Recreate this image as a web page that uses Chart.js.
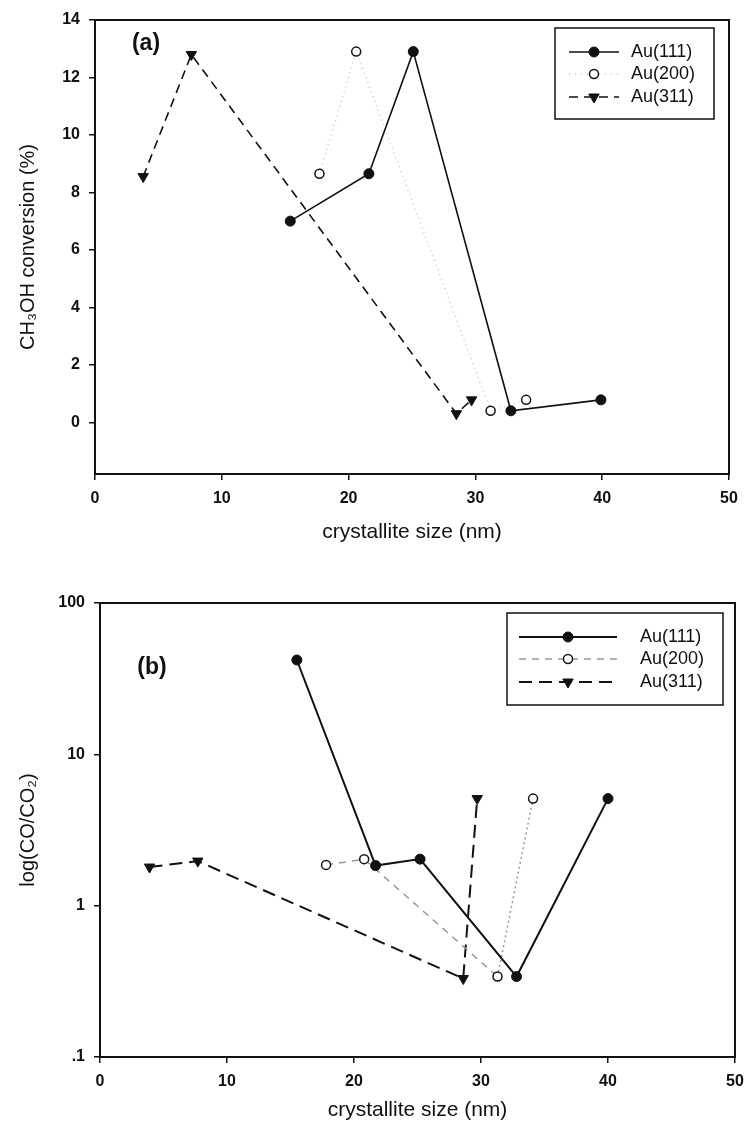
<!DOCTYPE html>
<html>
<head>
<meta charset="utf-8">
<script src="https://cdn.jsdelivr.net/npm/chart.js@4/dist/chart.umd.min.js"></script>
<style>
  html, body { margin: 0; padding: 0; background: #fff; }
  #wrap { position: relative; width: 744px; height: 1134px; }
  #chartA { position: absolute; left: 0; top: 0; }
  #chartB { position: absolute; left: 0; top: 560px; }
</style>
</head>
<body>
<div id="wrap">
  <canvas id="chartA" width="744" height="560"></canvas>
  <canvas id="chartB" width="744" height="574"></canvas>
</div>
<script>
// ---- data ----
const seriesNames = ['Au(111)', 'Au(200)', 'Au(311)'];

// (a) CH3OH conversion (%)
const a111X = [15.4, 21.6, 25.1, 32.8, 39.9];
const a111Y = [7.0, 8.65, 12.9, 0.4, 0.78];
const a200X = [17.7, 20.6, 31.2, 34.0];
const a200Y = [8.65, 12.9, 0.4, 0.78];
const a311X = [3.8, 7.6, 28.5, 29.7];
const a311Y = [8.55, 12.8, 0.3, 0.78];

// (b) log(CO/CO2)
const b111X = [15.5, 21.7, 25.2, 32.8, 40.0];
const b111Y = [42, 1.84, 2.03, 0.34, 5.1];
const b200X = [17.8, 20.8, 31.3, 34.1];
const b200Y = [1.86, 2.03, 0.34, 5.1];
const b311X = [3.9, 7.7, 28.6, 29.7];
const b311Y = [1.8, 1.97, 0.33, 5.1];

// ticks
const xTicks = [0, 10, 20, 30, 40, 50];
const yTicksA = [0, 2, 4, 6, 8, 10, 12, 14];
const yTicksB = [0.1, 1, 10, 100];
const yTickLabelsB = ['.1', '1', '10', '100'];

const xTitle = 'crystallite size (nm)';
const yTitleA = 'CH\u2083OH conversion (%)';
const yTitleB = 'log(CO/CO\u2082)';

Chart.defaults.font.family = '"Liberation Sans", Arial, sans-serif';
Chart.defaults.color = '#111';

function pts(xs, ys) {
  return xs.map((x, i) => ({x: x, y: ys[i]}));
}

// box round the plot area + panel letter
const frame = {
  id: 'frame',
  afterDraw(chart, args, opts) {
    const {ctx, chartArea: a} = chart;
    ctx.save();
    ctx.strokeStyle = '#111';
    ctx.lineWidth = 2;
    ctx.strokeRect(a.left, a.top, a.right - a.left, a.bottom - a.top);
    ctx.font = 'bold 23px "Liberation Sans", Arial, sans-serif';
    ctx.fillStyle = '#111';
    ctx.textAlign = 'center';
    ctx.textBaseline = 'middle';
    ctx.fillText(opts.letter, opts.lx, opts.ly);
    ctx.restore();
  }
};

// legend drawn inside the plot
const insideLegend = {
  id: 'insideLegend',
  afterDraw(chart, args, opts) {
    const ctx = chart.ctx;
    ctx.save();
    ctx.strokeStyle = '#111';
    ctx.lineWidth = 1.5;
    ctx.strokeRect(opts.x, opts.y, opts.w, opts.h);
    chart.data.datasets.forEach((ds, i) => {
      const yy = opts.rows[i];
      const mx = (opts.x0 + opts.x1) / 2;
      ctx.beginPath();
      ctx.setLineDash(ds.legendDash || ds.borderDash || []);
      ctx.strokeStyle = ds.borderColor;
      ctx.lineWidth = ds.borderWidth;
      ctx.moveTo(opts.x0, yy);
      ctx.lineTo(opts.x1, yy);
      ctx.stroke();
      ctx.setLineDash([]);
      ctx.fillStyle = ds.pointBackgroundColor;
      ctx.strokeStyle = ds.pointBorderColor;
      ctx.lineWidth = ds.pointBorderWidth;
      if (Chart.helpers && Chart.helpers.drawPoint) {
        Chart.helpers.drawPoint(ctx, {
          pointStyle: ds.pointStyle,
          rotation: ds.pointRotation || 0,
          radius: ds.pointRadius,
          borderWidth: ds.pointBorderWidth
        }, mx, yy);
      }
      ctx.font = '18px "Liberation Sans", Arial, sans-serif';
      ctx.fillStyle = '#111';
      ctx.textAlign = 'left';
      ctx.textBaseline = 'middle';
      ctx.fillText(seriesNames[i], opts.tx, yy);
    });
    ctx.restore();
  }
};

function xScale(height) {
  return {
    type: 'linear',
    min: 0, max: 50,
    afterBuildTicks: s => { s.ticks = xTicks.map(v => ({value: v})); },
    afterFit: s => { s.height = height; s.paddingLeft = 0; s.paddingRight = 0; },
    grid: {drawOnChartArea: false, drawTicks: true, tickLength: 6, color: '#111', lineWidth: 1.5},
    border: {color: '#111', width: 2},
    ticks: {padding: 9, color: '#111', font: {size: 16, weight: 'bold'}},
    title: {display: true, text: xTitle, color: '#111', padding: 0, font: {size: 21}}
  };
}

function yGrid() {
  return {drawOnChartArea: false, drawTicks: true, tickLength: 6, color: '#111', lineWidth: 1.5};
}

// ---- (a) ----
new Chart(document.getElementById('chartA'), {
  type: 'scatter',
  data: {
    datasets: [{
      label: seriesNames[0],
      data: pts(a111X, a111Y),
      showLine: true,
      borderColor: '#111', borderWidth: 1.6,
      pointStyle: 'circle', pointRadius: 5,
      pointBackgroundColor: '#111', pointBorderColor: '#111', pointBorderWidth: 1
    }, {
      label: seriesNames[1],
      data: pts(a200X, a200Y),
      showLine: true,
      borderColor: '#c9c9c9', borderWidth: 1.5, borderDash: [1, 4],
      legendDash: [1, 5],
      pointStyle: 'circle', pointRadius: 4.5,
      pointBackgroundColor: '#fff', pointBorderColor: '#111', pointBorderWidth: 1.5
    }, {
      label: seriesNames[2],
      data: pts(a311X, a311Y),
      showLine: true,
      borderColor: '#111', borderWidth: 1.6, borderDash: [9, 6],
      pointStyle: 'triangle', pointRotation: 180, pointRadius: 6,
      pointBackgroundColor: '#111', pointBorderColor: '#111', pointBorderWidth: 1
    }]
  },
  options: {
    responsive: false,
    animation: false,
    devicePixelRatio: 1,
    layout: {padding: {left: 16, top: 20, right: 15, bottom: 15}},
    plugins: {
      legend: {display: false},
      tooltip: {enabled: false},
      frame: {letter: '(a)', lx: 146, ly: 44},
      insideLegend: {x: 555, y: 28, w: 159, h: 91, rows: [52, 74, 97], x0: 569, x1: 619, tx: 631}
    },
    scales: {
      x: xScale(71),
      y: {
        type: 'linear',
        min: -1.8, max: 14,
        afterBuildTicks: s => { s.ticks = yTicksA.map(v => ({value: v})); },
        afterFit: s => { s.width = 79; s.paddingTop = 0; s.paddingBottom = 0; },
        grid: yGrid(),
        border: {color: '#111', width: 2},
        ticks: {padding: 9, color: '#111', font: {size: 16, weight: 'bold'}},
        title: {display: true, text: yTitleA, color: '#111', padding: 0, font: {size: 20}}
      }
    }
  },
  plugins: [frame, insideLegend]
});

// ---- (b) ----
new Chart(document.getElementById('chartB'), {
  type: 'scatter',
  data: {
    datasets: [{
      label: seriesNames[0],
      data: pts(b111X, b111Y),
      showLine: true,
      borderColor: '#111', borderWidth: 2,
      pointStyle: 'circle', pointRadius: 5,
      pointBackgroundColor: '#111', pointBorderColor: '#111', pointBorderWidth: 1
    }, {
      label: seriesNames[1],
      data: pts(b200X, b200Y),
      showLine: true,
      borderColor: '#999', borderWidth: 1.5, borderDash: [7, 6],
      segment: {borderDash: c => c.p0DataIndex === 2 ? [2, 3] : undefined},
      pointStyle: 'circle', pointRadius: 4.5,
      pointBackgroundColor: '#fff', pointBorderColor: '#111', pointBorderWidth: 1.5
    }, {
      label: seriesNames[2],
      data: pts(b311X, b311Y),
      showLine: true,
      borderColor: '#111', borderWidth: 2, borderDash: [13, 7],
      pointStyle: 'triangle', pointRotation: 180, pointRadius: 6,
      pointBackgroundColor: '#111', pointBorderColor: '#111', pointBorderWidth: 1
    }]
  },
  options: {
    responsive: false,
    animation: false,
    devicePixelRatio: 1,
    layout: {padding: {left: 16, top: 43, right: 9, bottom: 11}},
    plugins: {
      legend: {display: false},
      tooltip: {enabled: false},
      frame: {letter: '(b)', lx: 152, ly: 108},
      insideLegend: {x: 507, y: 53, w: 216, h: 92, rows: [77, 99, 122], x0: 519, x1: 617, tx: 640}
    },
    scales: {
      x: xScale(66),
      y: {
        type: 'logarithmic',
        min: 0.1, max: 100,
        afterBuildTicks: s => { s.ticks = yTicksB.map(v => ({value: v})); },
        afterFit: s => { s.width = 84; s.paddingTop = 0; s.paddingBottom = 0; },
        grid: yGrid(),
        border: {color: '#111', width: 2},
        ticks: {
          padding: 9, color: '#111', font: {size: 16, weight: 'bold'},
          callback: (v) => { const k = yTicksB.indexOf(v); return k >= 0 ? yTickLabelsB[k] : ''; }
        },
        title: {display: true, text: yTitleB, color: '#111', padding: 0, font: {size: 20}}
      }
    }
  },
  plugins: [frame, insideLegend]
});
</script>
</body>
</html>
